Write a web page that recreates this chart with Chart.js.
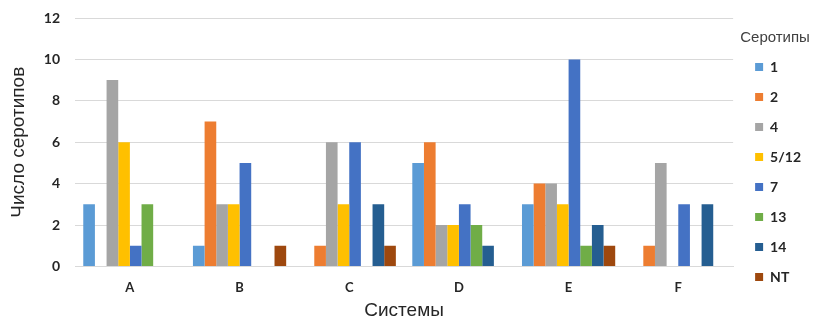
<!DOCTYPE html>
<html>
<head>
<meta charset="utf-8">
<script src="https://cdn.jsdelivr.net/npm/chart.js@4"></script>
<style>
  html, body { margin: 0; padding: 0; background: #fff; }
  #wrap { width: 820px; height: 329px; }
</style>
</head>
<body>
<div id="wrap"><canvas id="serChart"></canvas></div>
<script>
// Categories and series
const systems = ["A", "B", "C", "D", "E", "F"];
const serotypes = ["1", "2", "4", "5/12", "7", "13", "14", "NT"];
const s1   = [3, 1, null, 5, 3, null];
const s2   = [null, 7, 1, 6, 4, 1];
const s4   = [9, 3, 6, 2, 4, 5];
const s512 = [6, 3, 3, 2, 3, null];
const s7   = [1, 5, 6, 3, 10, 3];
const s13  = [3, null, null, 2, 1, null];
const s14  = [null, null, 3, 1, 2, 3];
const sNT  = [null, 1, 1, null, 1, null];
const yTicks = [0, 2, 4, 6, 8, 10, 12];

const colors = ["#5B9BD5", "#ED7D31", "#A5A5A5", "#FFC000", "#4472C4", "#70AD47", "#255E91", "#9E480E"];
const seriesData = [s1, s2, s4, s512, s7, s13, s14, sNT];

let ctx = document.getElementById("serChart").getContext('2d');
new Chart(ctx, {
    type: 'bar',
    data: {
        labels: systems,
        datasets: serotypes.map((name, i) => ({
            label: name,
            data: seriesData[i],
            backgroundColor: colors[i],
            categoryPercentage: 0.85,
            barPercentage: 1.0
        }))
    },
    options: {
        responsive: true,
        maintainAspectRatio: false,
        animation: false,
        layout: { padding: { top: 18, right: 9, left: 7, bottom: 9 } },
        plugins: {
            tooltip: { enabled: false },
            legend: {
                position: 'right',
                align: 'start',
                title: {
                    display: true,
                    text: "Серотипы",
                    color: "#404040",
                    font: { family: "Liberation Sans", size: 15, lineHeight: 1 },
                    padding: { top: 12, bottom: -1 }
                },
                labels: {
                    boxWidth: 8,
                    boxHeight: 8,
                    padding: 16,
                    color: "#262626",
                    font: { family: "Lato", size: 14, weight: 'bold' }
                }
            }
        },
        scales: {
            x: {
                grid: { display: false },
                border: { display: true, color: "#D9D9D9" },
                ticks: {
                    color: "#262626",
                    padding: 6,
                    font: { family: "Lato", size: 13, weight: 'bold' }
                },
                title: {
                    display: true,
                    text: "Системы",
                    color: "#262626",
                    font: { family: "Liberation Sans", size: 19, lineHeight: 1 },
                    padding: { top: -1, bottom: 0 }
                }
            },
            y: {
                min: 0,
                max: 12,
                afterBuildTicks: axis => { axis.ticks = yTicks.map(v => ({ value: v })); },
                grid: { color: "#D9D9D9", drawTicks: false },
                border: { display: false },
                ticks: {
                    color: "#262626",
                    padding: 15,
                    // small line height so the top label does not push the plot down
                    font: { family: "Lato", size: 14, weight: 'bold', lineHeight: 0.3 }
                },
                title: {
                    display: true,
                    text: "Число серотипов",
                    color: "#262626",
                    font: { family: "Liberation Sans", size: 19 },
                    padding: { top: 0, bottom: -1 }
                }
            },
            // empty gap between plot and legend
            gap: {
                position: 'right',
                min: 0,
                max: 12,
                grid: { display: false },
                border: { display: false },
                ticks: { display: false },
                afterFit: s => { s.width = 6; }
            }
        }
    }
});
</script>
</body>
</html>
